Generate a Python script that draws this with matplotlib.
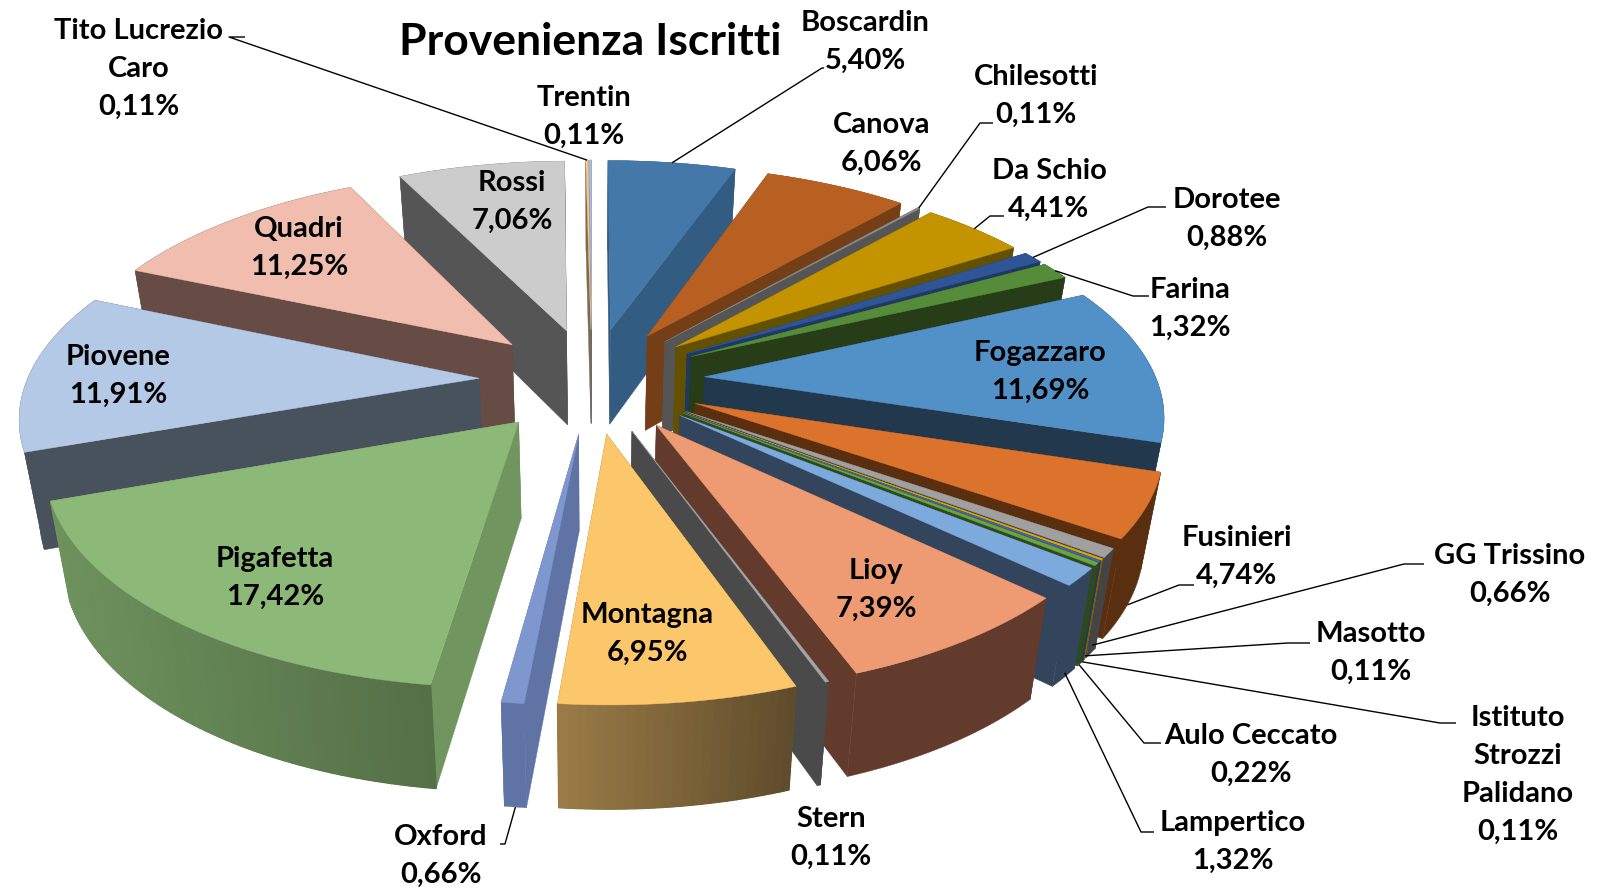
import numpy as np
import matplotlib
matplotlib.use("Agg")
import matplotlib.pyplot as plt
from matplotlib.patches import Polygon

plt.rcParams['font.family'] = ['Lato', 'DejaVu Sans']

names = ["Boscardin", "Canova", "Chilesotti", "Da Schio", "Dorotee", "Farina", "Fogazzaro",
         "Fusinieri", "GG Trissino", "Masotto", "Istituto\nStrozzi\nPalidano", "Aulo Ceccato",
         "Lampertico", "Lioy", "Stern", "Montagna", "Oxford", "Pigafetta", "Piovene", "Quadri",
         "Rossi", "Tito Lucrezio\nCaro", "Trentin"]
values = [5.40, 6.06, 0.11, 4.41, 0.88, 1.32, 11.69,
          4.74, 0.66, 0.11, 0.11, 0.22,
          1.32, 7.39, 0.11, 6.95, 0.66, 17.42, 11.91, 11.25,
          7.06, 0.11, 0.11]

top_colors = ["#4478A8", "#B86022", "#8C8C8C", "#C49400", "#2F5597", "#558C3A", "#5290C8",
              "#DC732C", "#A0A0A0", "#E0A800", "#3F66B0", "#6BA440",
              "#7CAADC", "#EE9A72", "#A5A5A5", "#FCC66B", "#7E97CF", "#8CB878", "#B4C9E5", "#F1BDAE",
              "#CCCCCC", "#F4C590", "#A9BEE0"]
wall_colors = ["#335C82", "#743E16", "#555555", "#635000", "#1F3864", "#263D18", "#21384D",
               "#5A2F10", "#444444", "#7F6000", "#203864", "#2E4A1C",
               "#32455C", "#623B2D", "#4A4A4A", "#8C7040", "#5F74A5", "#70955F", "#48525D", "#664C44",
               "#555555", "#7F6A50", "#5A6A80"]
# shade of the curved side, left end / right end
rim_shade = {15: (1.12, 0.68), 17: (0.98, 0.75)}

label_x = [865, 882, 1036, 1049, 1227, 1190, 1040,
           1237, 1510, 1371, 1518, 1251,
           1233, 876, 831, 647, 441, 275, 118, 299,
           512, 139, 584]
label_y = [42, 144, 96, 190, 219, 309, 372,
           557, 575, 653, 775, 755,
           842, 590, 838, 634, 856, 578, 376, 248,
           202, 69, 117]

# leader lines: slice index, depth on the side wall, elbow, label end
leaders = [(0, 0.0, (822, 68), (824, 68)),
           (21, 0.0, (229, 37), (245, 37)),
           (2, 0.0, (980, 123), (993, 123)),
           (3, 0.0, (990, 216), (1004, 216)),
           (4, 0.0, (1148, 207), (1166, 207)),
           (5, 0.0, (1133, 296), (1149, 296)),
           (7, 1.0, (1179, 585), (1194, 585)),
           (8, 0.92, (1404, 564), (1424, 564)),
           (9, 0.96, (1288, 643), (1310, 643)),
           (10, 1.0, (1440, 723), (1456, 723)),
           (11, 1.0, (1144, 743), (1161, 743)),
           (12, 0.95, (1141, 832), (1154, 832)),
           (16, 1.0, (505, 844), (500, 844))]

cx, cy = 592, 380
rx, ry = 452, 210
persp = 0.155
explode = 0.25
drop = 95.4
low_sx, low_sy = 0.965, 1.027


def project(u, v, z=0.0):
    w = 1 + persp * v
    x = cx + rx * u / w
    y = cy - ry * v / w
    # z=1 is the lower face of the pie
    x = cx + (x - cx) * (1 + (low_sx - 1) * z)
    y = cy + (y - cy) * (1 + (low_sy - 1) * z) + drop * z
    return x, y


def slice_points(a0, a1, z=0.0):
    mid = (a0 + a1) / 2
    ox, oy = explode * np.sin(mid), explode * np.cos(mid)
    ang = np.linspace(a0, a1, max(int((a1 - a0) * 60), 2))
    x, y = project(ox + np.sin(ang), oy + np.cos(ang), z)
    ax_, ay_ = project(ox, oy, z)
    return (ax_, ay_), np.column_stack([x, y])


def mix(col, f):
    rgb = np.array(matplotlib.colors.to_rgb(col)) * f
    return tuple(np.clip(rgb, 0, 1))


fig = plt.figure(figsize=(16.01, 8.88), dpi=100)
ax = fig.add_axes([0, 0, 1, 1])
ax.set_xlim(0, 1601)
ax.set_ylim(888, 0)
ax.axis("off")

edges = np.cumsum([0] + values) / sum(values) * 2 * np.pi
mids = (edges[:-1] + edges[1:]) / 2

for i in sorted(range(len(values)), key=lambda k: -np.cos(mids[k])):
    a0, a1 = edges[i], edges[i + 1]
    apex_t, rim_t = slice_points(a0, a1)
    apex_b, rim_b = slice_points(a0, a1, 1.0)
    wall = wall_colors[i]
    # flat cut walls
    for k in (0, -1):
        quad = [apex_t, rim_t[k], rim_b[k], apex_b]
        ax.add_patch(Polygon(quad, closed=True, fc=wall, ec=wall, lw=0.3, zorder=1))
    # curved side, shaded strips only on the big front slices
    s0, s1 = rim_shade.get(i, (1, 1))
    base = mix(wall, (s0 + s1) / 2)
    ax.add_patch(Polygon(np.vstack([rim_t, rim_b[::-1]]), closed=True, fc=base, ec=base, lw=0.3, zorder=1))
    if i in rim_shade:
        xmin, xmax = rim_t[:, 0].min(), rim_t[:, 0].max()
        for k in range(len(rim_t) - 1):
            t = (rim_t[k, 0] - xmin) / max(xmax - xmin, 1)
            c = mix(wall, s0 + (s1 - s0) * t)
            ax.add_patch(Polygon([rim_t[k], rim_t[k + 1], rim_b[k + 1], rim_b[k]], closed=True,
                                 fc=c, ec=c, lw=1.0, zorder=1))
    ax.add_patch(Polygon(np.vstack([apex_t, rim_t]), closed=True, fc=top_colors[i], ec=top_colors[i],
                         lw=0.3, zorder=1))

for i, z, elbow, end in leaders:
    mid = mids[i]
    ox, oy = (1 + explode) * np.sin(mid), (1 + explode) * np.cos(mid)
    tx, ty = project(ox, oy, z)
    ax.plot([tx, elbow[0], end[0]], [ty, elbow[1], end[1]], color="black", lw=1.0, zorder=3,
            solid_capstyle="butt")

for i, name in enumerate(names):
    ax.text(label_x[i], label_y[i], f"{name}\n{values[i]:.2f}%".replace(".", ","),
            ha="center", va="center", fontsize=21, fontweight="bold", color="black",
            linespacing=1.57, zorder=4)

ax.text(590, 42, "Provenienza Iscritti", ha="center", va="center", fontsize=32,
        fontweight="bold", color="black", zorder=4)

fig.savefig("out.png", dpi=100)
